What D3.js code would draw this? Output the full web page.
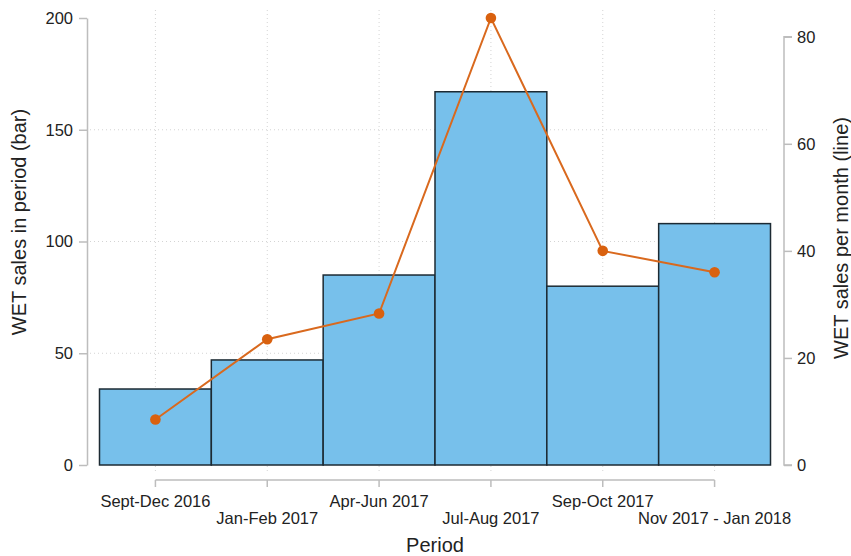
<!DOCTYPE html>
<html>
<head>
<meta charset="utf-8">
<script src="https://cdn.jsdelivr.net/npm/d3@7"></script>
<style>
  body { margin: 0; background: #fff; }
  text { font-family: "Liberation Sans", Arial, sans-serif; fill: #222; }
</style>
</head>
<body>
<script>
var periods = ["Sept-Dec 2016", "Jan-Feb 2017", "Apr-Jun 2017", "Jul-Aug 2017", "Sep-Oct 2017", "Nov 2017 - Jan 2018"];
var salesPeriod = [34, 47, 85, 167, 80, 108];
var salesMonth = [8.5, 23.5, 28.3, 83.5, 40, 36];
var leftTicks = [0, 50, 100, 150, 200];
var rightTicks = [0, 20, 40, 60, 80];

var width = 851, height = 556;
var svg = d3.select("body").append("svg")
    .attr("width", width)
    .attr("height", height);

var x = d3.scaleBand()
    .domain(periods)
    .range([99.5, 770.5])
    .padding(0);
var yL = d3.scaleLinear().domain([0, 200]).range([465, 18]);
var yR = d3.scaleLinear().domain([0, 83.5]).range([465, 18]);
var cx = function(d) { return x(d) + x.bandwidth() / 2; };

var grid = svg.append("g")
    .attr("stroke", "#d4d4d4")
    .attr("stroke-width", 1)
    .attr("stroke-dasharray", "1,3");
grid.selectAll("line.h")
    .data(leftTicks.slice(1, 4))
    .enter().append("line")
    .attr("x1", 90).attr("x2", 770)
    .attr("y1", function(d) { return yL(d); })
    .attr("y2", function(d) { return yL(d); });
grid.selectAll("line.v")
    .data(periods)
    .enter().append("line")
    .attr("y1", 10).attr("y2", 474)
    .attr("x1", cx).attr("x2", cx);

svg.append("g").selectAll("rect")
    .data(periods)
    .enter().append("rect")
    .attr("x", function(d) { return x(d); })
    .attr("width", x.bandwidth())
    .attr("y", function(d, i) { return yL(salesPeriod[i]); })
    .attr("height", function(d, i) { return yL(0) - yL(salesPeriod[i]); })
    .attr("fill", "#77c0eb")
    .attr("stroke", "#1c2a33")
    .attr("stroke-width", 1.5);

var line = d3.line()
    .x(function(d, i) { return cx(periods[i]); })
    .y(function(d) { return yR(d); });
svg.append("path")
    .datum(salesMonth)
    .attr("d", line)
    .attr("fill", "none")
    .attr("stroke", "#d9691e")
    .attr("stroke-width", 2);
svg.append("g").selectAll("circle")
    .data(salesMonth)
    .enter().append("circle")
    .attr("cx", function(d, i) { return cx(periods[i]); })
    .attr("cy", function(d) { return yR(d); })
    .attr("r", 5.3)
    .attr("fill", "#d9610f");

function styleAxis(g) {
    g.selectAll("path, line").attr("stroke", "#bdbdbd").attr("stroke-width", 1.5);
    g.selectAll("text").style("font-size", "16.5px").attr("fill", "#222");
}

var leftAxis = svg.append("g")
    .attr("transform", "translate(87,0)")
    .call(d3.axisLeft(yL).tickValues(leftTicks).tickSize(8).tickSizeOuter(0).tickPadding(6));
styleAxis(leftAxis);

var rightAxis = svg.append("g")
    .attr("transform", "translate(784,0)")
    .call(d3.axisRight(yR).tickValues(rightTicks).tickSize(8).tickSizeOuter(0).tickPadding(5));
styleAxis(rightAxis);
rightAxis.select(".domain").attr("d", "M8," + yR(80) + "H0V" + yR(0) + "H8");

var xAxis = svg.append("g")
    .attr("transform", "translate(0,480)")
    .call(d3.axisBottom(x).tickSize(7).tickSizeOuter(0));
styleAxis(xAxis);
xAxis.select(".domain").attr("d", "M" + cx(periods[0]) + ",0H" + cx(periods[5]));
xAxis.selectAll("text")
    .attr("y", function(d, i) { return i % 2 === 0 ? 15 : 32; })
    .attr("dy", "0.71em");

svg.append("text")
    .attr("transform", "translate(26,222) rotate(-90)")
    .attr("text-anchor", "middle")
    .style("font-size", "20px")
    .text("WET sales in period (bar)");
svg.append("text")
    .attr("transform", "translate(848,238) rotate(-90)")
    .attr("text-anchor", "middle")
    .style("font-size", "20px")
    .text("WET sales per month (line)");
svg.append("text")
    .attr("x", 435).attr("y", 552)
    .attr("text-anchor", "middle")
    .style("font-size", "20px")
    .text("Period");
</script>
</body>
</html>
